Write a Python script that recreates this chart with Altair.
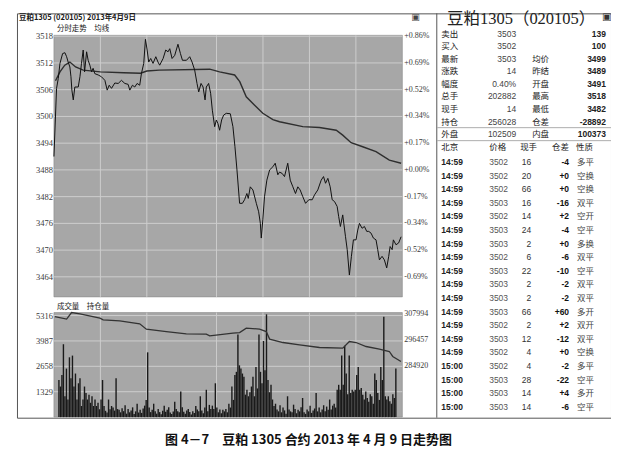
import altair as alt
import pandas as pd

# ---------------- data ----------------
header_text = "豆粕1305 (020105) 2013年4月9日"
price_title = "分时走势　均线"
volume_title = "成交量　持仓量"
quote_title = "豆粕1305（020105）"
caption_text = "图 4－7　豆粕 1305 合约 2013 年 4 月 9 日走势图"

price_ticks = [3518, 3512, 3506, 3500, 3494, 3488, 3482, 3476, 3470, 3464]
pct_labels = ["+0.86%", "+0.69%", "+0.52%", "+0.34%", "+0.17%", "+0.00%",
              "-0.17%", "-0.34%", "-0.52%", "-0.69%"]
volume_ticks = [5316, 3987, 2658, 1329]
oi_ticks = [307994, 296457, 284920]
grid_minutes = [30, 60, 105, 135, 165, 195]

# (minute since open, price)
price_points = [
    (0, 3491), (1.7, 3506.3), (2.8, 3508.5), (3.9, 3511.9), (5.6, 3514.1), (7.1, 3514.3),
    (8.2, 3513.4), (9.2, 3512.2), (10.3, 3511.1), (11.0, 3508.9), (11.6, 3505.9), (12.5, 3503.7),
    (13.5, 3506.6), (15.7, 3506.6), (16.8, 3508.9), (17.8, 3511.9), (18.9, 3514.9), (19.8, 3510.0),
    (21.1, 3514.5), (22.1, 3512.6), (23.2, 3511.5), (24.3, 3510.0), (25.3, 3510.8), (26.4, 3509.6),
    (28.6, 3509.3), (30.7, 3508.9), (32.9, 3508.1), (34.4, 3505.9), (35.7, 3507.0), (37.2, 3506.3),
    (39.3, 3507.5), (41.5, 3507.4), (43.6, 3508.1), (45.8, 3507.4), (47.9, 3507.2), (49.0, 3505.9),
    (50.7, 3507.0), (52.2, 3506.6), (53.7, 3507.4), (55.4, 3507.0), (56.5, 3509.6), (58.0, 3511.9),
    (59.1, 3517.3), (60.2, 3514.9), (61.2, 3512.2), (62.5, 3513.0), (64.0, 3511.9), (65.8, 3513.4),
    (67.2, 3512.2), (68.3, 3511.5), (70.5, 3513.0), (72.2, 3514.9), (73.7, 3514.5), (74.8, 3515.2),
    (76.3, 3513.0), (78.0, 3513.7), (80.1, 3516.2), (81.7, 3514.1), (83.0, 3512.6), (85.6, 3512.6),
    (87.7, 3513.4), (89.2, 3512.2), (90.9, 3510.4), (92.4, 3507.4), (93.5, 3505.5), (95.0, 3507.4),
    (96.3, 3506.6), (97.6, 3503.7), (98.4, 3506.6), (99.9, 3507.4), (101.2, 3505.2), (102.3, 3501.4),
    (103.8, 3497.7), (104.9, 3499.2), (105.9, 3498.4), (107.0, 3496.9), (108.3, 3499.2), (109.6, 3500.3),
    (111.3, 3500.7), (113.9, 3500.6), (115.6, 3497.7), (116.9, 3493.2), (118.2, 3488.0), (119.9, 3480.5),
    (121.7, 3480.5), (123.1, 3481.3), (124.6, 3482.7), (125.5, 3481.6), (126.8, 3484.2), (128.5, 3483.5),
    (130.7, 3480.5), (132.2, 3478.6), (133.3, 3476.0), (133.9, 3472.7), (134.9, 3476.8), (136.0, 3482.0),
    (137.5, 3485.7), (139.3, 3488.0), (141.4, 3488.7), (142.9, 3489.5), (144.6, 3486.9), (145.7, 3487.5),
    (147.4, 3487.2), (148.9, 3486.5), (151.0, 3489.5), (152.6, 3485.7), (154.3, 3484.2), (156.0, 3482.7),
    (157.5, 3484.2), (159.0, 3483.5), (160.7, 3482.0), (162.5, 3480.5), (164.6, 3481.3), (166.8, 3481.3),
    (168.3, 3482.4), (170.4, 3483.5), (172.6, 3485.7), (174.1, 3486.5), (175.4, 3485.0), (176.9, 3486.1),
    (178.4, 3484.2), (179.7, 3481.3), (181.2, 3480.9), (182.9, 3479.8), (183.9, 3477.5), (185.0, 3475.3),
    (186.5, 3477.9), (188.3, 3473.0), (189.4, 3470.1), (190.8, 3464.4), (192.1, 3468.6), (193.4, 3472.3),
    (195.1, 3472.3), (196.2, 3474.5), (197.3, 3476.0), (199.0, 3474.9), (200.5, 3475.3), (202.0, 3474.2),
    (203.3, 3474.2), (204.8, 3473.8), (206.3, 3472.7), (208.0, 3472.3), (209.1, 3470.1), (210.2, 3467.8),
    (211.9, 3468.6), (213.4, 3467.8), (214.9, 3466.0), (216.2, 3468.6), (217.1, 3470.8), (218.4, 3470.1),
    (219.2, 3472.3), (220.9, 3471.2), (222.6, 3471.6), (224.2, 3473.0),
]

avg_points = [
    (1, 3508.0), (3.9, 3510.0), (7.0, 3511.5), (10.3, 3512.2), (14.0, 3511.1), (18.9, 3510.4),
    (30.0, 3510.0), (45.0, 3509.8), (56.0, 3509.7), (60.0, 3510.2), (68.0, 3510.4), (100.6, 3510.6),
    (107.0, 3510.0), (116.7, 3509.3), (120.0, 3507.8), (124.2, 3504.4), (129.6, 3502.5), (134.9, 3500.7),
    (141.4, 3499.3), (145.7, 3498.8), (160.7, 3497.7), (171.5, 3497.5), (182.3, 3496.9), (186.5, 3495.8),
    (191.9, 3494.1), (199.4, 3493.2), (208.0, 3492.1), (216.6, 3490.2), (224.2, 3489.5),
]

# volume per minute (0..224)
volume = [
    1940, 1600, 2200, 3815, 1090, 2540, 920, 3130, 2030, 3220,
    1600, 2280, 920, 1770, 2030, 580, 920, 1600, 1260, 920,
    1175, 750, 1090, 580, 920, 580, 750, 410, 920, 1940,
    580, 330, 240, 920, 410, 580, 500, 340, 2030, 420,
    380, 250, 460, 310, 620, 180, 420, 250, 340, 510,
    160, 300, 700, 240, 380, 220, 450, 600, 900, 3390,
    500, 260, 380, 700, 300, 180, 420, 260, 150, 330,
    600, 280, 380, 520, 240, 160, 290, 800, 420, 300,
    250, 1345, 520, 280, 180, 350, 420, 260, 130, 300,
    220, 580, 400, 300, 1090, 350, 200, 500, 1430, 300,
    640, 420, 600, 420, 1770, 500, 250, 400, 200, 380,
    300, 420, 250, 700, 500, 1600, 900, 2200, 2370, 4325,
    2710, 2540, 2280, 2110, 1175, 1430, 1090, 1300, 1600, 2110,
    1090, 2620, 1500, 4325, 2370, 1770, 3985, 2450, 5381, 1940,
    1300, 1690, 920, 580, 700, 400, 300, 620, 250, 500,
    350, 180, 1090, 400, 300, 250, 650, 420, 200, 380,
    300, 520, 1000, 250, 170, 400, 300, 600, 220, 350,
    450, 1260, 300, 500, 250, 400, 620, 300, 550, 380,
    920, 400, 600, 700, 500, 1430, 1690, 1430, 3220, 1690,
    3730, 2280, 1200, 3220, 1260, 1430, 1345, 1430, 2200, 2620,
    1430, 1520, 1175, 920, 1345, 1000, 800, 1200, 1090, 700,
    2280, 1940, 1260, 900, 2620, 1940, 5260, 1090, 920, 1090,
    830, 700, 1200, 1000, 2540,
]

# (minute, open interest)
oi_points = [
    (0.6, 307008), (8.2, 305844), (11.4, 308800), (16.8, 308218), (29.7, 306292), (31.8, 305530),
    (42.5, 305082), (55.4, 303738), (59.7, 301364), (72.6, 300288), (85.5, 299258), (98.4, 299124),
    (100.6, 298362), (115.6, 299572), (119.9, 299840), (124.2, 301812), (132.8, 301364), (137.1, 300288),
    (139.3, 296884), (147.9, 295360), (158.6, 294330), (171.5, 293120), (186.5, 292852), (190.8, 295808),
    (195.1, 295360), (201.6, 293568), (210.2, 292404), (216.6, 291328), (218.8, 289088), (224.1, 286848),
]

quote_labels1 = ["卖出", "买入", "最新", "涨跌", "幅度", "总手", "现手", "持仓", "外盘"]
quote_values1 = ["3503", "3502", "3503", "14", "0.40%", "202882", "14", "256028", "102509"]
quote_labels2 = ["", "", "均价", "昨结", "开盘", "最高", "最低", "仓差", "内盘"]
quote_values2 = ["139", "100", "3499", "3489", "3491", "3518", "3482", "-28892", "100373"]

trade_header = ["北京", "价格", "现手", "仓差", "性质"]
trade_time = ["14:59"] * 15 + ["15:00"] * 4
trade_price = ["3502", "3502", "3502", "3503", "3502", "3503", "3503", "3502", "3503", "3503",
               "3503", "3503", "3502", "3503", "3502", "3502", "3503", "3503", "3503"]
trade_qty = ["16", "20", "66", "16", "14", "24", "2", "6", "22", "2",
             "2", "66", "2", "12", "4", "4", "28", "14", "14"]
trade_diff = ["-4", "+0", "+0", "-16", "+2", "-4", "+0", "-6", "-10", "-2",
              "-2", "+60", "+2", "-12", "+0", "-2", "-22", "+4", "-6"]
trade_kind = ["多平", "空换", "空换", "双平", "空开", "空平", "多换", "双平", "空平", "双平",
              "双平", "多开", "双开", "双平", "空换", "多平", "空平", "多开", "空平"]

# ---------------- scales / style ----------------
FONT_CN = "Noto Sans CJK SC"
FONT_NUM = "Liberation Serif, Noto Sans CJK SC"
FONT_TAB = "Liberation Sans, Noto Sans CJK SC"
BG = "#a7a7a7"
GRID = "#cdcdcd"
INK = "#1a1a1a"

MIN_DOMAIN = [0, 225]
PRICE_DOMAIN = [3459.5, 3518.2]
VOL_DOMAIN = [0, 5473]
OI_DOMAIN = [261893, 308800]


def sc(domain, rng):
    return alt.Scale(domain=domain, range=rng, nice=False, zero=False)


xs = lambda: sc(MIN_DOMAIN, [37, 386])
ys_p = lambda: sc(PRICE_DOMAIN, [284, 22])
ys_v = lambda: sc(VOL_DOMAIN, [404.4, 299.7])
ys_o = lambda: sc(OI_DOMAIN, [404.4, 299.7])
rows_top = lambda: sc([0, 8], [20.3, 121])
rows_trade = lambda: sc([0, 18], [149, 394])

one = pd.DataFrame({"k": [0]})
layers = []

# panel backgrounds
for ydom, yscale in ((PRICE_DOMAIN, ys_p), (VOL_DOMAIN, ys_v)):
    d = pd.DataFrame({"a": [MIN_DOMAIN[0]], "b": [MIN_DOMAIN[1]], "lo": [ydom[0]], "hi": [ydom[1]]})
    layers.append(alt.Chart(d).mark_rect(fill=BG, stroke="#8a8a8a", strokeWidth=0.6).encode(
        x=alt.X("a:Q", scale=xs(), axis=None), x2="b:Q",
        y=alt.Y("lo:Q", scale=yscale(), axis=None), y2="hi:Q"))

# horizontal grid lines
for ticks, yscale in ((price_ticks, ys_p), (volume_ticks, ys_v)):
    d = pd.DataFrame({"t": ticks, "a": MIN_DOMAIN[0], "b": MIN_DOMAIN[1]})
    layers.append(alt.Chart(d).mark_rule(color=GRID, strokeWidth=1).encode(
        x=alt.X("a:Q", scale=xs(), axis=None), x2="b:Q",
        y=alt.Y("t:Q", scale=yscale(), axis=None)))

# vertical grid lines
for ydom, yscale in ((PRICE_DOMAIN, ys_p), (VOL_DOMAIN, ys_v)):
    d = pd.DataFrame({"m": grid_minutes, "lo": ydom[0], "hi": ydom[1]})
    layers.append(alt.Chart(d).mark_rule(color=GRID, strokeWidth=1).encode(
        x=alt.X("m:Q", scale=xs(), axis=None),
        y=alt.Y("lo:Q", scale=yscale(), axis=None), y2="hi:Q"))

# volume bars
vol_df = pd.DataFrame({"m": list(range(len(volume))), "v": volume})
layers.append(alt.Chart(vol_df).mark_bar(size=1.4, color=INK).encode(
    x=alt.X("m:Q", scale=xs(), axis=None),
    y=alt.Y("v:Q", scale=ys_v(), axis=None)))

# open interest line
oi_df = pd.DataFrame(oi_points, columns=["m", "oi"])
layers.append(alt.Chart(oi_df).mark_line(color="#333333", strokeWidth=1.3).encode(
    x=alt.X("m:Q", scale=xs(), axis=None),
    y=alt.Y("oi:Q", scale=ys_o(), axis=None)))

# average line & price line
avg_df = pd.DataFrame(avg_points, columns=["m", "p"])
layers.append(alt.Chart(avg_df).mark_line(color="#2e2e2e", strokeWidth=1.4).encode(
    x=alt.X("m:Q", scale=xs(), axis=None),
    y=alt.Y("p:Q", scale=ys_p(), axis=None)))
price_df = pd.DataFrame(price_points, columns=["m", "p"])
layers.append(alt.Chart(price_df).mark_line(color="#111111", strokeWidth=1).encode(
    x=alt.X("m:Q", scale=xs(), axis=None),
    y=alt.Y("p:Q", scale=ys_p(), axis=None)))


def axis_text(values, labels, yscale, xpx, align, size=8):
    d = pd.DataFrame({"t": values, "lab": labels})
    return alt.Chart(d).mark_text(align=align, baseline="middle", font=FONT_NUM,
                                  fontSize=size, color="#3a3a3a").encode(
        x=alt.value(xpx), y=alt.Y("t:Q", scale=yscale(), axis=None), text="lab:N")


layers.append(axis_text(price_ticks, [str(t) for t in price_ticks], ys_p, 36, "right", 8.5))
layers.append(axis_text(price_ticks, pct_labels, ys_p, 388, "left", 8))
layers.append(axis_text(volume_ticks, [str(t) for t in volume_ticks], ys_v, 36, "right", 8.5))
layers.append(axis_text(oi_ticks, [str(t) for t in oi_ticks], ys_o, 388, "left", 8))


def free_text(txt, xpx, ypx, size, align="left", font=FONT_CN, color=INK, weight="normal"):
    return alt.Chart(pd.DataFrame({"s": [txt]})).mark_text(
        align=align, baseline="middle", font=font, fontSize=size, color=color,
        fontWeight=weight).encode(x=alt.value(xpx), y=alt.value(ypx), text="s:N")


layers.append(free_text(header_text, 2, 4.5, 7.5, weight="bold"))
layers.append(free_text(price_title, 40, 16, 7.5))
layers.append(free_text(volume_title, 40, 294, 7.5))
layers.append(free_text("▣", 395, 4, 9, font="DejaVu Sans", color="#444444"))
layers.append(free_text(quote_title, 505, 6, 16.5, align="center",
                        font="Liberation Serif, Noto Sans CJK SC", color="#222222"))
layers.append(free_text("▣", 586, 4, 10, font="DejaVu Sans", color="#333333"))
layers.append(free_text(caption_text, 292, 427, 13, align="center", weight="bold", color="#111111"))


def table_col(values, xpx, align, rows, color=INK, weight="normal", font=FONT_TAB, size=8.5):
    d = pd.DataFrame({"r": list(range(len(values))), "s": values})
    return alt.Chart(d).mark_text(align=align, baseline="middle", font=font, fontSize=size,
                                  color=color, fontWeight=weight).encode(
        x=alt.value(xpx), y=alt.Y("r:Q", scale=rows(), axis=None), text="s:N")


layers.append(table_col(quote_labels1, 425, "left", rows_top, font=FONT_CN, color="#222222"))
layers.append(table_col(quote_values1, 500, "right", rows_top, color="#444444"))
layers.append(table_col(quote_labels2, 516, "left", rows_top, font=FONT_CN, color="#222222"))
layers.append(table_col(quote_values2, 590, "right", rows_top, color="#222222", weight="bold"))

hdr_x = [425, 473, 504, 536, 560]
for txt, hx in zip(trade_header, hdr_x):
    layers.append(free_text(txt, hx, 134, 8.5, color="#222222"))

layers.append(table_col(trade_time, 425, "left", rows_trade, weight="bold", color="#222222"))
layers.append(table_col(trade_price, 473, "left", rows_trade, color="#555555"))
layers.append(table_col(trade_qty, 515, "right", rows_trade, color="#333333"))
layers.append(table_col(trade_diff, 553, "right", rows_trade, weight="bold", color="#111111"))
layers.append(table_col(trade_kind, 561, "left", rows_trade, font=FONT_CN, color="#444444"))

# frame separators (layout decoration)
layers.append(alt.Chart(one).mark_rule(color="#555555", strokeWidth=1).encode(
    x=alt.value(420.5), y=alt.value(0), y2=alt.value(405)))
for ly in (114.5, 127.5):
    layers.append(alt.Chart(one).mark_rule(color="#999999", strokeWidth=0.8).encode(
        x=alt.value(421), x2=alt.value(595), y=alt.value(ly)))

chart = alt.layer(*layers).resolve_scale(x="independent", y="independent").properties(
    width=595, height=405,
    padding={"left": 9, "top": 5, "right": 0, "bottom": 35},
    autosize="none",
    background="white",
).configure_view(stroke="#555555", strokeWidth=1)

chart.save("out.html", embed_options={"renderer": "svg", "actions": False})
